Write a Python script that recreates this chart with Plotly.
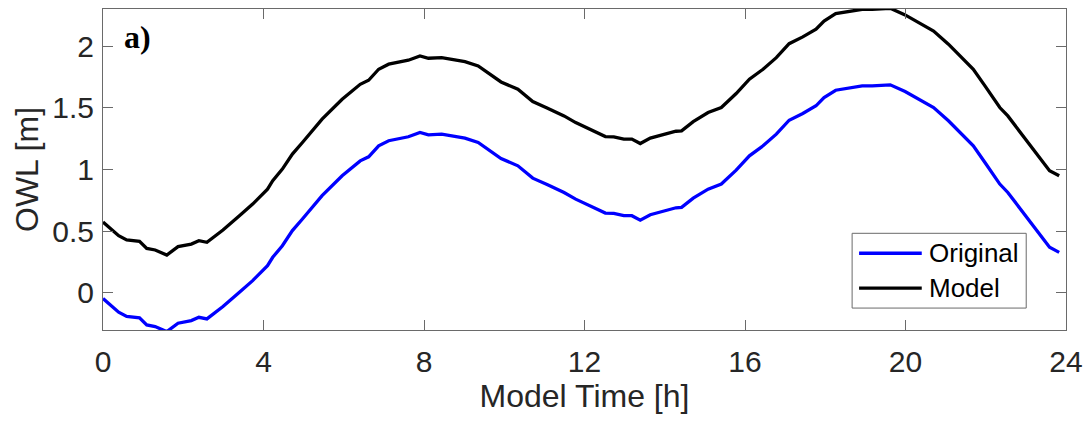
import plotly.graph_objects as go

# Model time [h]
time_h = [0.00, 0.20, 0.39, 0.59, 0.91, 1.09, 1.30, 1.59, 1.87, 2.20, 2.39, 2.59, 2.99, 3.40,
          3.73, 4.10, 4.23, 4.47, 4.72, 4.97, 5.46, 5.96, 6.41, 6.62, 6.87, 7.12, 7.45, 7.61,
          7.90, 8.11, 8.44, 8.77, 9.02, 9.35, 9.59, 9.92, 10.34, 10.71, 11.08, 11.49, 11.78,
          12.19, 12.52, 12.73, 12.98, 13.18, 13.39, 13.64, 13.97, 14.28, 14.42, 14.71, 15.08,
          15.41, 15.78, 16.11, 16.45, 16.78, 17.10, 17.44, 17.77, 17.97, 18.26, 18.55, 18.92,
          19.17, 19.62, 19.99, 20.32, 20.70, 21.07, 21.40, 21.69, 21.98, 22.35, 22.55, 22.89,
          23.30, 23.59, 23.83]

# Model OWL [m] (black)
owl_model = [0.575, 0.520, 0.464, 0.430, 0.418, 0.361, 0.348, 0.307, 0.375, 0.396, 0.423, 0.410,
             0.510, 0.625, 0.720, 0.841, 0.909, 1.003, 1.125, 1.219, 1.408, 1.569, 1.690, 1.723,
             1.812, 1.853, 1.879, 1.885, 1.920, 1.901, 1.906, 1.885, 1.874, 1.839, 1.785, 1.709,
             1.650, 1.550, 1.497, 1.434, 1.380, 1.319, 1.267, 1.265, 1.246, 1.246, 1.210, 1.254,
             1.286, 1.310, 1.313, 1.388, 1.461, 1.502, 1.615, 1.731, 1.812, 1.906, 2.019, 2.074,
             2.136, 2.203, 2.262, 2.276, 2.298, 2.298, 2.306, 2.252, 2.190, 2.122, 2.015, 1.906,
             1.812, 1.677, 1.502, 1.434, 1.286, 1.110, 0.990, 0.949]

# Original OWL [m] (blue)
owl_original = [-0.045, -0.100, -0.156, -0.190, -0.202, -0.259, -0.272, -0.313, -0.245, -0.224,
                -0.197, -0.210, -0.110, 0.005, 0.100, 0.221, 0.289, 0.383, 0.505, 0.599, 0.788,
                0.949, 1.070, 1.103, 1.192, 1.233, 1.259, 1.265, 1.300, 1.281, 1.286, 1.265,
                1.254, 1.219, 1.165, 1.089, 1.030, 0.930, 0.877, 0.814, 0.760, 0.699, 0.647,
                0.645, 0.626, 0.626, 0.590, 0.634, 0.666, 0.690, 0.693, 0.768, 0.841, 0.882,
                0.995, 1.111, 1.192, 1.286, 1.399, 1.454, 1.516, 1.583, 1.642, 1.656, 1.678,
                1.678, 1.686, 1.632, 1.570, 1.502, 1.395, 1.286, 1.192, 1.057, 0.882, 0.814,
                0.666, 0.490, 0.370, 0.329]

x_ticks = [0, 4, 8, 12, 16, 20, 24]
y_ticks = [0, 0.5, 1, 1.5, 2]
y_tick_labels = ["0", "0.5", "1", "1.5", "2"]

W, H = 1091, 421
L, R, T, B = 103, 20, 8, 91
pw, ph = W - L - R, H - T - B

def px(xp):
    return (xp - L) / pw

def py(yp):
    return (H - B - yp) / ph

fig = go.Figure()
fig.add_trace(go.Scatter(x=time_h, y=owl_original, mode="lines", name="Original",
                         line=dict(color="#0000FF", width=3.3), showlegend=False))
fig.add_trace(go.Scatter(x=time_h, y=owl_model, mode="lines", name="Model",
                         line=dict(color="#000000", width=3.3), showlegend=False))

axis_col = "#6a6a6a"
txt_col = "#262626"
font_main = "Liberation Sans, Arial, sans-serif"

fig.update_layout(
    width=W, height=H,
    margin=dict(l=L, r=R, t=T, b=B),
    paper_bgcolor="white", plot_bgcolor="white",
    font=dict(family=font_main, color=txt_col),
    xaxis=dict(range=[0, 24], tickvals=x_ticks, ticks="inside", ticklen=10, tickcolor=axis_col,
               tickwidth=1, showline=True, linecolor=axis_col, linewidth=1, mirror="ticks",
               showgrid=False, zeroline=False, tickfont=dict(size=30, color=txt_col),
               ticklabelstandoff=5,
               title=dict(text="Model Time [h]", font=dict(size=32, color=txt_col), standoff=0)),
    yaxis=dict(range=[-0.3, 2.3], tickvals=y_ticks, ticktext=y_tick_labels, ticks="inside",
               ticklen=10, tickcolor=axis_col, tickwidth=1, showline=True, linecolor=axis_col,
               linewidth=1, mirror="ticks", showgrid=False, zeroline=False,
               tickfont=dict(size=30, color=txt_col), ticklabelstandoff=2,
               title=dict(text="OWL [m]", font=dict(size=32, color=txt_col), standoff=4)),
)

# panel label
fig.add_annotation(text="<b>a)</b>", xref="paper", yref="paper", x=px(122), y=py(36),
                   xanchor="left", yanchor="middle", showarrow=False,
                   font=dict(family="Liberation Serif, Times New Roman, serif", size=32,
                             color="#000000"))

# legend (MATLAB style)
fig.add_shape(type="rect", xref="paper", yref="paper", x0=px(856), x1=px(1031),
              y0=py(308), y1=py(233), line=dict(color="#6a6a6a", width=1),
              fillcolor="white", layer="above")
legend_items = [("Original", "#0000FF", 253), ("Model", "#000000", 288)]
for name, col, yy in legend_items:
    fig.add_shape(type="line", xref="paper", yref="paper", x0=px(863), x1=px(926),
                  y0=py(yy), y1=py(yy), line=dict(color=col, width=3.3), layer="above")
    fig.add_annotation(text=name, xref="paper", yref="paper", x=px(931), y=py(yy),
                       xanchor="left", yanchor="middle", showarrow=False,
                       font=dict(size=26, color="#000000", family=font_main))

fig.write_html("out.html")
